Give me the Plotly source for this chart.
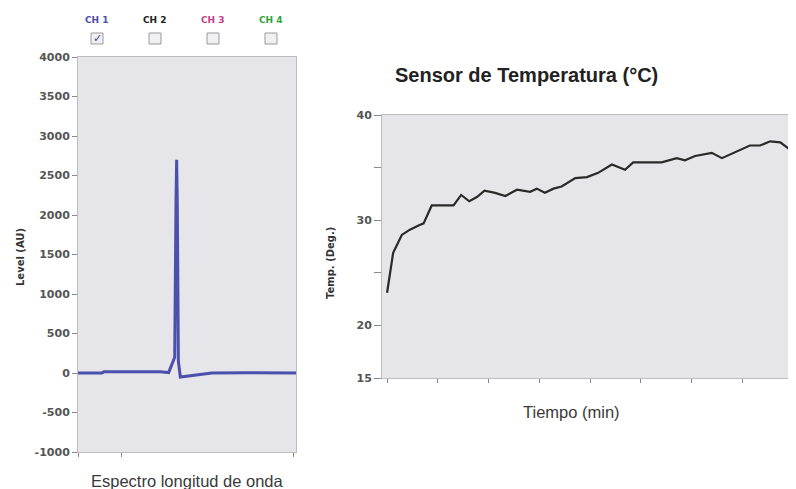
import plotly.graph_objects as go

# ---------------- data ----------------
# Left: spectrum (channel 1)
wavelength = [0, 11, 12, 25, 38, 42, 44.8, 45.4, 45.7, 46.0, 46.5, 47.4, 50, 55, 59, 62, 78, 90, 101]
level_ch1 = [0, 0, 15, 18, 15, 5, 200, 2150, 2700, 2150, 150, -50, -40, -25, -10, 0, 4, 4, 0]
level_ticks = [-1000, -500, 0, 500, 1000, 1500, 2000, 2500, 3000, 3500, 4000]
wl_ticks = [0, 20, 100]
channels = ["CH 1", "CH 2", "CH 3", "CH 4"]
channel_colors = ["#4b4cae", "#222222", "#c23f8c", "#2fa33a"]
channel_checked = [True, False, False, False]

# Right: temperature sensor
time_min = [0, 0.12, 0.29, 0.45, 0.62, 0.72, 0.88, 1.31, 1.46, 1.62, 1.77, 1.92, 2.13, 2.33,
            2.56, 2.82, 2.95, 3.11, 3.28, 3.44, 3.71, 3.94, 4.16, 4.43, 4.69, 4.85, 5.18,
            5.41, 5.71, 5.87, 6.07, 6.40, 6.60, 6.89, 7.15, 7.35, 7.55, 7.75, 7.94]
temp_deg = [23.1, 26.9, 28.6, 29.1, 29.5, 29.7, 31.4, 31.4, 32.4, 31.8, 32.2, 32.8, 32.6, 32.3,
            32.9, 32.7, 33.0, 32.6, 33.0, 33.2, 34.0, 34.1, 34.5, 35.3, 34.8, 35.5, 35.5,
            35.5, 35.9, 35.7, 36.1, 36.4, 35.9, 36.5, 37.1, 37.1, 37.5, 37.4, 36.7]
temp_ticks = [15, 20, 25, 30, 35, 40]
temp_ticktext = ["15", "20", "", "30", "", "40"]
time_ticks = [0, 1, 2, 3, 4, 5, 6, 7, 8]

# page has an 8px body margin, so the figure is drawn 8px smaller and offset
OFF = 8
W, H = 796 - OFF, 489 - OFF


def px(x):
    return (x - OFF) / W


def py(y):
    return 1 - (y - OFF) / H


fig = go.Figure()

fig.add_trace(go.Scatter(x=wavelength, y=level_ch1, mode="lines",
                         line=dict(color="#4a50ac", width=3),
                         xaxis="x", yaxis="y", showlegend=False))
fig.add_trace(go.Scatter(x=time_min, y=temp_deg, mode="lines",
                         line=dict(color="#2a2a2a", width=2.2),
                         xaxis="x2", yaxis="y2", showlegend=False))

plot_bg = "#e5e5ea"
axis_line = "#bdbdbd"
tickfont = dict(family="DejaVu Sans", size=11, color="#555555", weight="bold")

fig.update_layout(
    width=W, height=H,
    margin=dict(l=0, r=0, t=0, b=0, autoexpand=False),
    paper_bgcolor="white",
    plot_bgcolor="white",
    xaxis=dict(domain=[px(78), px(296)], range=[0, 101], tickvals=wl_ticks,
               ticktext=["", "", ""], ticks="outside", ticklen=4, tickcolor="#888",
               showgrid=False, zeroline=False, showline=True, linecolor=axis_line,
               mirror=True, anchor="y", fixedrange=True, automargin=False),
    yaxis=dict(domain=[py(452), py(57)], range=[-1000, 4000], tickvals=level_ticks,
               ticktext=[str(v) for v in level_ticks],
               ticks="outside", ticklen=5, tickcolor="#888", tickfont=tickfont,
               showgrid=False, zeroline=False, showline=True, linecolor=axis_line,
               mirror=True, anchor="x", fixedrange=True, automargin=False),
    xaxis2=dict(domain=[px(382), px(793)], range=[-0.1, 8.0], tickvals=time_ticks,
                ticktext=[""] * len(time_ticks), ticks="outside", ticklen=4, tickcolor="#888",
                showgrid=False, zeroline=False, showline=True, linecolor=axis_line,
                mirror=True, anchor="y2", fixedrange=True, automargin=False),
    yaxis2=dict(domain=[py(378), py(115)], range=[15, 40], tickvals=temp_ticks,
                ticktext=temp_ticktext, ticks="outside", ticklen=7, tickcolor="#888",
                tickfont=dict(family="DejaVu Sans", size=11, color="#555555", weight="bold"),
                showgrid=False, zeroline=False, showline=True, linecolor=axis_line,
                mirror=True, anchor="x2", fixedrange=True, automargin=False),
)

# plot area backgrounds
for xa, ya in (("x domain", "y domain"), ("x2 domain", "y2 domain")):
    fig.add_shape(type="rect", xref=xa, yref=ya, x0=0, x1=1, y0=0, y1=1,
                  fillcolor=plot_bg, line=dict(width=0), layer="below")


def label(x, y, text, size, color, weight="normal", family="DejaVu Sans", angle=0,
          xanchor="center"):
    return dict(x=px(x), y=py(y), xref="paper", yref="paper", text=text, textangle=angle,
                showarrow=False, xanchor=xanchor, yanchor="middle",
                font=dict(family=family, size=size, color=color, weight=weight))


annotations = [
    label(20, 257, "Level (AU)", 10, "#333", "bold", angle=-90),
    label(187, 481, "Espectro longitud de onda", 16.5, "#3a3a3a", family="Liberation Sans"),
    label(330, 263, "Temp. (Deg.)", 10, "#333", "bold", angle=-90),
    label(571, 412, "Tiempo (min)", 16.5, "#3a3a3a", family="Liberation Sans"),
    label(393, 75, "Sensor de Temperatura (°C)", 20, "#222", "bold",
          family="Liberation Sans", xanchor="left"),
]

# channel selector
ch_x = [97, 155, 213, 271]
for name, col, chk, cx in zip(channels, channel_colors, channel_checked, ch_x):
    annotations.append(label(cx, 20, name, 9, col, "bold"))
    fig.add_shape(type="rect", xref="paper", yref="paper",
                  x0=px(cx - 6), x1=px(cx + 6), y0=py(44), y1=py(33),
                  fillcolor="#f0f0f2", line=dict(color="#9a9a9a", width=1))
    if chk:
        annotations.append(label(cx, 38.5, "✓", 11, "#3d3f8f"))

fig.update_layout(annotations=annotations)

fig.write_html("out.html")
